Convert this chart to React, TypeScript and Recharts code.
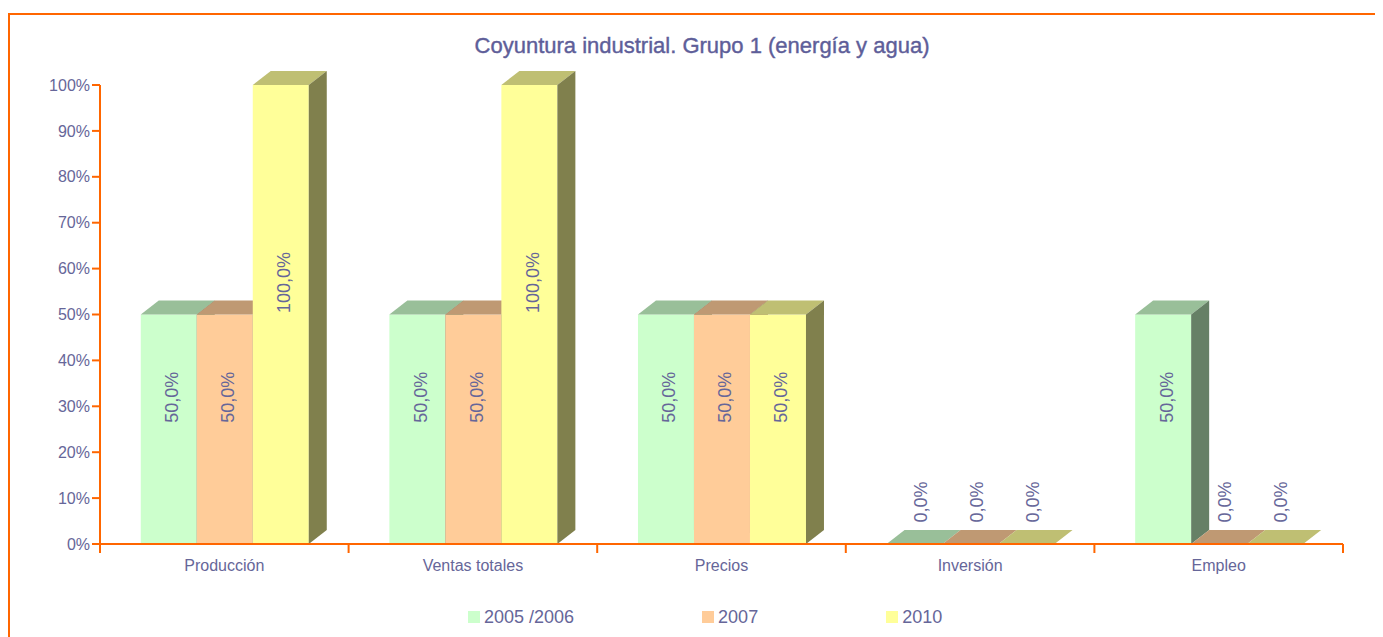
import React from 'react';
import { BarChart, Bar, XAxis, YAxis, LabelList, Legend } from 'recharts';

const categories = ['Producción', 'Ventas totales', 'Precios', 'Inversión', 'Empleo'];
const seriesNames = ['2005 /2006', '2007', '2010'];
const values2005 = [50, 50, 50, 0, 50];
const values2007 = [50, 50, 50, 0, 0];
const values2010 = [100, 100, 50, 0, 0];
const yTicks = [0, 10, 20, 30, 40, 50, 60, 70, 80, 90, 100];
const title = 'Coyuntura industrial. Grupo 1 (energía y agua)';

const FONT = '"Liberation Sans", Arial, Helvetica, sans-serif';
const TEXT = '#666699';
const ORANGE = '#FF6600';
const FRONT = ['#CCFFCC', '#FFCC99', '#FFFF99'];
const TOP = ['#99BF99', '#BF9973', '#BFBF73'];
const SIDE = ['#668066', '#80664D', '#80804D'];
const DX = 18;
const DY = 14;

const data = categories.map((c, i) => ({
  name: c,
  s0: values2005[i],
  s1: values2007[i],
  s2: values2010[i],
}));

const fmt = (v: number) => v.toFixed(1).replace('.', ',') + '%';

const makeShape = (ci: number) => (props: any) => {
  const x = Number(props.x);
  const y = Number(props.y);
  const w = Number(props.width);
  const h = Math.max(0, Number(props.height) || 0);
  if (!isFinite(x) || !isFinite(y)) return <g />;
  return (
    <g>
      {h > 0 && <rect x={x} y={y} width={w} height={h} fill={FRONT[ci]} />}
      <polygon
        points={`${x},${y} ${x + w},${y} ${x + w + DX},${y - DY} ${x + DX},${y - DY}`}
        fill={TOP[ci]}
      />
      {h > 0 && (
        <polygon
          points={`${x + w},${y} ${x + w + DX},${y - DY} ${x + w + DX},${y + h - DY} ${x + w},${y + h}`}
          fill={SIDE[ci]}
        />
      )}
    </g>
  );
};

const renderLabel = (props: any) => {
  const vb = props.viewBox && props.viewBox.width !== undefined ? props.viewBox : props;
  const x = Number(vb.x);
  const y = Number(vb.y);
  const w = Number(vb.width);
  const h = Math.abs(Number(vb.height) || 0);
  const value = Number(props.value);
  const cx = x + w / 2 + (value === 0 ? 6 : 3.5);
  const cy = value === 0 ? y - 42 : y + h / 2 - 32;
  return (
    <text
      x={cx}
      y={cy}
      transform={`rotate(-90 ${cx} ${cy})`}
      textAnchor="middle"
      dominantBaseline="central"
      fontSize={18}
      fontFamily={FONT}
      fill={TEXT}
    >
      {fmt(value)}
    </text>
  );
};

const CatTick = (props: any) => {
  const { x, y, payload, width, visibleTicksCount, index } = props;
  const n = visibleTicksCount || categories.length;
  const bw = Number(width) / n;
  const lineTop = y - 16;
  const lineBottom = y - 7;
  return (
    <g>
      <line x1={x - bw / 2} x2={x - bw / 2} y1={lineTop} y2={lineBottom} stroke={ORANGE} strokeWidth={2} />
      {index === n - 1 && (
        <line x1={x + bw / 2} x2={x + bw / 2} y1={lineTop} y2={lineBottom} stroke={ORANGE} strokeWidth={2} />
      )}
      <text x={x} y={y} dy="0.71em" textAnchor="middle" fontSize={16} fontFamily={FONT} fill={TEXT}>
        {payload.value}
      </text>
    </g>
  );
};

const LegendContent = () => (
  <div
    style={{
      display: 'flex',
      alignItems: 'center',
      height: 20,
      paddingLeft: 460,
      fontFamily: FONT,
      fontSize: 18,
      color: TEXT,
      whiteSpace: 'nowrap',
    }}
  >
    {seriesNames.map((s, i) => (
      <div key={s} style={{ display: 'flex', alignItems: 'center', marginRight: 128 }}>
        <span style={{ display: 'inline-block', width: 12, height: 12, background: FRONT[i], marginRight: 4 }} />
        <span>{s}</span>
      </div>
    ))}
  </div>
);

export default function App() {
  return (
    <div style={{ position: 'relative', width: 1375, height: 629, overflow: 'hidden', background: '#fff' }}>
      <div
        style={{
          position: 'absolute',
          left: 0,
          top: 5,
          width: 1400,
          height: 700,
          borderLeft: `2px solid ${ORANGE}`,
          borderTop: `2px solid ${ORANGE}`,
          boxSizing: 'border-box',
        }}
      />
      <svg
        width={1375}
        height={70}
        style={{ position: 'absolute', left: 0, top: 0, pointerEvents: 'none' }}
      >
        <text
          x={694}
          y={45}
          textAnchor="middle"
          fontSize={22}
          fontFamily={FONT}
          fill="#5E5E99"
          stroke="#5E5E99"
          strokeWidth={0.4}
        >
          {title}
        </text>
      </svg>
      <div style={{ position: 'absolute', left: 0, top: 0 }}>
        <BarChart
          width={1375}
          height={629}
          data={data}
          margin={{ top: 77, right: 40, left: 0, bottom: 43 }}
          barCategoryGap="16.4%"
          barGap={0}
        >
          <XAxis
            dataKey="name"
            interval={0}
            height={30}
            tickSize={9}
            tickMargin={7}
            tickLine={false}
            axisLine={{ stroke: ORANGE, strokeWidth: 2 }}
            tick={<CatTick />}
          />
          <YAxis
            width={92}
            domain={[0, 100]}
            ticks={yTicks}
            interval={0}
            tickFormatter={(v: number) => `${v}%`}
            tickSize={8}
            tickMargin={2}
            axisLine={{ stroke: ORANGE, strokeWidth: 2 }}
            tickLine={{ stroke: ORANGE, strokeWidth: 2 }}
            tick={{ fill: TEXT, fontSize: 16, fontFamily: FONT }}
          />
          <Legend
            verticalAlign="bottom"
            align="left"
            content={<LegendContent />}
            wrapperStyle={{ left: 0, top: 599, width: 1375 }}
          />
          <Bar dataKey="s0" name={seriesNames[0]} fill={FRONT[0]} shape={makeShape(0)} isAnimationActive={false}>
            <LabelList dataKey="s0" content={renderLabel} />
          </Bar>
          <Bar dataKey="s1" name={seriesNames[1]} fill={FRONT[1]} shape={makeShape(1)} isAnimationActive={false}>
            <LabelList dataKey="s1" content={renderLabel} />
          </Bar>
          <Bar dataKey="s2" name={seriesNames[2]} fill={FRONT[2]} shape={makeShape(2)} isAnimationActive={false}>
            <LabelList dataKey="s2" content={renderLabel} />
          </Bar>
        </BarChart>
      </div>
    </div>
  );
}
